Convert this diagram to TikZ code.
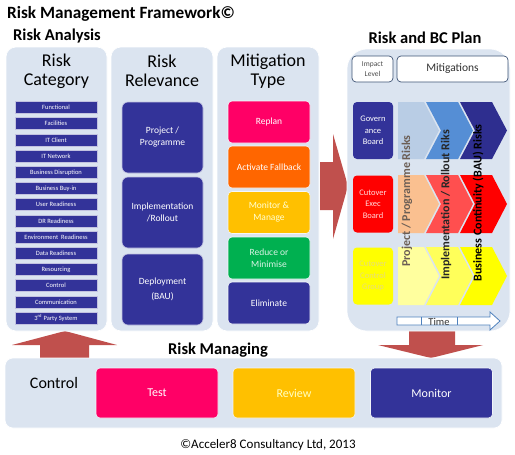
\documentclass[tikz,border=0pt]{standalone}
\usepackage{fontspec}
\setmainfont{Carlito}
\definecolor{panelbg}{HTML}{DBE4F0}
\definecolor{dkblue}{HTML}{333399}
\definecolor{arrowred}{HTML}{C0504D}
\definecolor{magenta}{HTML}{FF0066}
\definecolor{orangeF}{HTML}{FF6600}
\definecolor{amber}{HTML}{FFC000}
\definecolor{greenM}{HTML}{00B050}
\definecolor{paleyel}{HTML}{FFFF99}
\definecolor{outlineB}{HTML}{3E5475}
\definecolor{timeB}{HTML}{4F81BD}
\definecolor{chA1}{HTML}{B9CDE5}
\definecolor{chB1}{HTML}{558ED5}
\definecolor{chC1}{HTML}{2E2E8F}
\definecolor{chA2}{HTML}{FAC090}
\definecolor{chB2}{HTML}{FF4F4F}
\definecolor{chC2}{HTML}{FF0000}
\definecolor{chA3}{HTML}{FFFF9E}
\definecolor{chB3}{HTML}{FFFF5A}
\definecolor{chC3}{HTML}{FFFF00}
\definecolor{ccgtext}{HTML}{E8DC78}
\definecolor{projtext}{HTML}{6B5E55}
\newcommand\mychev[7]{%
  \fill[#7] (#1,#3) -- (#5,#3) -- (#6,{(#3+#4)/2}) -- (#5,#4) -- (#1,#4) -- ({#1+#2},{(#3+#4)/2}) -- cycle;}
\begin{document}
\begin{tikzpicture}[x=1pt,y=-1pt,
  panel/.style={fill=panelbg,draw=white,line width=0.6pt,rounded corners=10pt},
  cattitle/.style={font=\fontsize{18}{19}\selectfont,align=center,text=black,inner sep=0pt},
  catbox/.style={fill=dkblue,draw=white!70!dkblue,line width=0.5pt,minimum width=82pt,minimum height=12pt,inner sep=0pt,text=white,font=\fontsize{6.5}{7}\selectfont},
  relbox/.style={fill=dkblue,draw=white!70!dkblue,line width=0.6pt,rounded corners=6pt,minimum width=81pt,inner sep=0pt,text=white,align=center,font=\fontsize{9.5}{12}\selectfont},
  mitbox/.style={draw=white!70!panelbg,line width=0.6pt,rounded corners=4pt,minimum width=82pt,minimum height=42pt,inner sep=0pt,text=white,align=center,font=\fontsize{9.5}{12}\selectfont},
  boardbox/.style={rounded corners=4pt,minimum width=40pt,minimum height=57pt,inner sep=0pt,align=center,font=\fontsize{8.5}{11.5}\selectfont},
  headbox/.style={fill=white,draw=outlineB,line width=0.7pt,rounded corners=4pt,minimum height=26pt,inner sep=0pt,align=center},
  vtext/.style={rotate=90,font=\bfseries\fontsize{12}{12}\selectfont,inner sep=0pt},
  mgbox/.style={draw=white!60!panelbg,line width=0.6pt,rounded corners=4pt,minimum width=122pt,minimum height=50pt,inner sep=0pt,font=\fontsize{12}{14}\selectfont},
  bigarrow/.style={fill=arrowred}
]
\useasboundingbox[fill=white] (0,0) rectangle (515,455);

% titles
\node[anchor=west,font=\bfseries\fontsize{17.2}{18}\selectfont,inner sep=0pt] (title) at (7,14) {Risk Management Framework©};
\node[anchor=west,font=\bfseries\fontsize{16.5}{17}\selectfont,inner sep=0pt] (ra) at (13,36) {Risk Analysis};
\node[font=\bfseries\fontsize{16.5}{17}\selectfont,inner sep=0pt] (rbc) at (425,38) {Risk and BC Plan};

% big arrows (behind panels)
\fill[bigarrow] (320,162) -- (333,162) -- (333,134) -- (348,186) -- (333,239) -- (333,210) -- (320,210) -- cycle;
\fill[bigarrow] (40,359) -- (40,345) -- (12,345) -- (65,331) -- (117,345) -- (89,345) -- (89,359) -- cycle;
\fill[bigarrow] (409,329) -- (455,329) -- (455,345) -- (483,345) -- (431,358) -- (378,345) -- (409,345) -- cycle;

% left panels
\draw[panel] (6,47) rectangle (107,331);
\draw[panel] (111,47) rectangle (213,331);
\draw[panel] (217,47) rectangle (319,331);
\node[cattitle] (t1) at (56.5,71) {Risk\\Category};
\node[cattitle] (t2) at (162,71) {Risk\\Relevance};
\node[cattitle] (t3) at (268,71) {Mitigation\\Type};

% risk category list
\foreach \i/\t in {0/Functional,1/Facilities,2/IT Client,3/IT Network,4/Business Disruption,5/Business Buy-in,6/User Readiness,7/DR Readiness,8/Environment\ \ Readiness,9/Data Readiness,10/Resourcing,11/Control,12/Communication,13/3\textsuperscript{rd} Party System}
  \node[catbox] (c\i) at (56,{107.5+16.2*\i}) {\t};

% risk relevance
\node[relbox,minimum height=71pt] (rel1) at (162.5,137.5) {Project /\\Programme};
\node[relbox,minimum height=71pt] (rel2) at (162.5,212.5) {Implementation\\/Rollout};
\node[relbox,minimum height=71pt,font=\fontsize{9.5}{15}\selectfont] (rel3) at (162.5,289.5) {Deployment\\(BAU)};

% mitigation type
\node[mitbox,fill=magenta] (m1) at (269,122) {Replan};
\node[mitbox,fill=orangeF] (m2) at (269,167) {Activate Fallback};
\node[mitbox,fill=amber,text=white!55!paleyel] (m3) at (269,212.5) {Monitor \&\\Manage};
\node[mitbox,fill=greenM,text=white!85!greenM] (m4) at (269,258) {Reduce or\\Minimise};
\node[mitbox,fill=dkblue] (m5) at (269,303) {Eliminate};

% right panel
\draw[panel,rounded corners=20pt] (347,49) rectangle (510,331);
\node[headbox,minimum width=41pt,font=\fontsize{7.5}{9.5}\selectfont,text=black!70] (imp) at (372.5,69) {Impact\\Level};
\node[headbox,minimum width=111pt,font=\fontsize{11.5}{13}\selectfont,text=black!80] (mits) at (452.5,69) {Mitigations};

\node[boardbox,fill=dkblue,text=white] (gov) at (373,130.5) {Govern\\ance\\Board};
\node[boardbox,fill=chC2,text=white!85!red] (ceb) at (373,204) {Cutover\\Exec\\Board};
\node[boardbox,fill=chC3,text=ccgtext] (ccg) at (373,276) {Cutover\\Control\\Group};

% chevrons
\mychev{398}{0}{102}{159}{424}{439}{chA1}
\mychev{426}{15}{102}{159}{458}{473}{chB1}
\mychev{460}{15}{102}{159}{492}{507}{chC1}
\mychev{398}{0}{175}{233}{424}{439}{chA2}
\mychev{426}{15}{175}{233}{458}{473}{chB2}
\mychev{460}{15}{175}{233}{492}{507}{chC2}
\mychev{398}{0}{247}{305}{424}{439}{chA3}
\mychev{426}{15}{247}{305}{458}{473}{chB3}
\mychev{460}{15}{247}{305}{492}{507}{chC3}

\node[vtext,text=projtext] (v1) at (407,201) {Project / Programme Risks};
\node[vtext,text=black!85] (v2) at (446,205) {Implementation / Rollout Riks};
\node[vtext,text=black] (v3) at (478,203) {Business Continuity (BAU) Risks};

% time arrow
\draw[fill=white,draw=timeB,line width=0.8pt] (397,317) -- (490,317) -- (490,312) -- (500,321) -- (490,330) -- (490,325) -- (397,325) -- cycle;
\draw[timeB,line width=0.5pt] (421,317) -- (421,325) (457,317) -- (457,325);
\node[font=\fontsize{10.5}{11}\selectfont,text=black!80,inner sep=0pt] (time) at (439,321.5) {Time};

% risk managing
\node[font=\bfseries\fontsize{16.5}{17}\selectfont,inner sep=0pt] (rm) at (218,350) {Risk Managing};
\draw[panel,rounded corners=8pt] (5,358) rectangle (502,428);
\node[font=\fontsize{16}{18}\selectfont,inner sep=0pt] (ctrl) at (54,383) {Control};
\node[mgbox,fill=magenta,text=white] (test) at (157,393) {Test};
\node[mgbox,fill=amber,text=white!40!paleyel] (review) at (294,393) {Review};
\node[mgbox,fill=dkblue,text=white] (monitor) at (431.5,393) {Monitor};

\node[font=\fontsize{13}{15}\selectfont,inner sep=0pt] (copy) at (268,445) {©Acceler8 Consultancy Ltd, 2013};
\end{tikzpicture}
\end{document}
